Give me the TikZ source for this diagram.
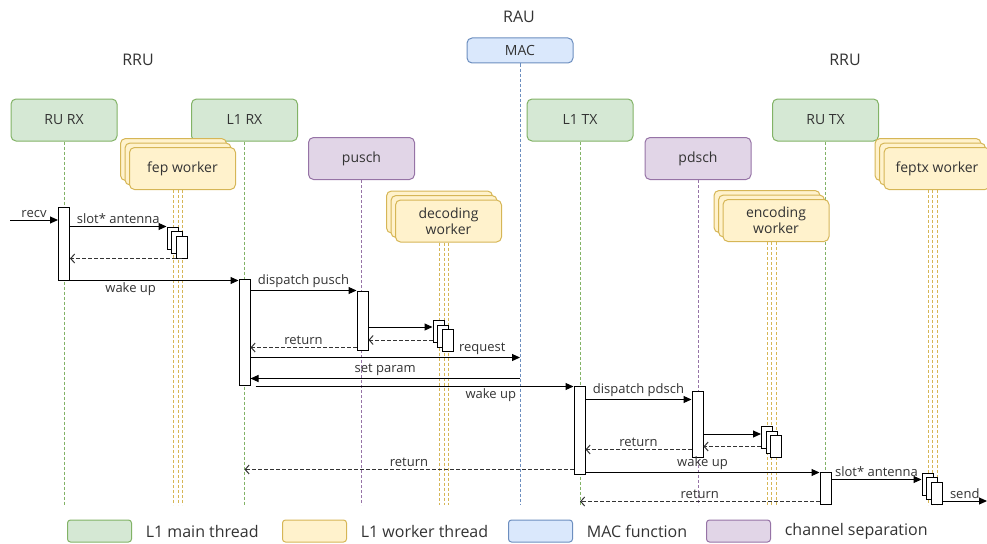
\documentclass[tikz,border=0pt]{standalone}
\usepackage{fontspec}
\setmainfont{Open Sans}
\usepackage{tikz}
\usetikzlibrary{arrows.meta}
\usetikzlibrary{arrows}

\definecolor{mainfill}{HTML}{D5E8D4}
\definecolor{maindraw}{HTML}{82B366}
\definecolor{workfill}{HTML}{FFF2CC}
\definecolor{workdraw}{HTML}{D6B656}
\definecolor{macfill}{HTML}{DAE8FC}
\definecolor{macdraw}{HTML}{6C8EBF}
\definecolor{chanfill}{HTML}{E1D5E7}
\definecolor{chandraw}{HTML}{9673A6}
\definecolor{txt}{HTML}{333333}

\begin{document}
\begin{tikzpicture}[x=1pt,y=-1pt,line width=1pt]
  \tikzset{unit/.style = {shape=rectangle,rounded corners=5pt,minimum width=106pt,minimum height=42pt,inner sep=1pt,align=center,text=txt,font=\fontsize{14}{16}\selectfont}}
  \tikzset{mainth/.style = {unit,draw=maindraw,fill=mainfill}}
  \tikzset{workth/.style = {unit,draw=workdraw,fill=workfill}}
  \tikzset{macf/.style = {unit,draw=macdraw,fill=macfill}}
  \tikzset{chan/.style = {unit,draw=chandraw,fill=chanfill}}
  \tikzset{life/.style = {dash pattern=on 3pt off 2pt}}
  \tikzset{bar/.style = {shape=rectangle,draw=black,fill=white,minimum width=11pt,inner sep=0pt}}
  \tikzset{msg/.style = {-{Triangle[length=8pt,width=7pt]}}}
  \tikzset{ret/.style = {-{Straight Barb[length=4pt,width=9pt]},dash pattern=on 4pt off 2pt,draw=txt}}
  \tikzset{lbl/.style = {text=txt,inner sep=2pt,font=\fontsize{13}{15}\selectfont}}
  \tikzset{head/.style = {text=txt,font=\fontsize{16}{18}\selectfont}}

  \useasboundingbox (0,0) rectangle (987,543);

  \node[head] (rau) at (519,17) {RAU};
  \node[head] (rrul) at (138,60) {RRU};
  \node[head] (rrur) at (845,60) {RRU};

  \node[mainth] (rurx) at (64,120) {RU RX};
  \node[mainth] (l1rx) at (244.5,120) {L1 RX};
  \node[mainth] (l1tx) at (580,120) {L1 TX};
  \node[mainth] (rutx) at (825.5,120) {RU TX};
  \node[chan] (pusch) at (361.5,158.5) {pusch};
  \node[chan] (pdsch) at (698,158.5) {pdsch};
  \node[macf,minimum height=25pt] (mac) at (520,50.5) {MAC};

  \coordinate (base) at (0,505);
  \foreach \n/\c in {rurx/maindraw, l1rx/maindraw, l1tx/maindraw, rutx/maindraw, pusch/chandraw, pdsch/chandraw, mac/macdraw}
    \draw[life,\c] (\n.south) -- (\n.south |- base);

  \foreach \w/\x/\y/\t in {fep/182.5/168.5/fep worker, dec/448.5/221/{decoding\\worker}, enc/776/220.5/{encoding\\worker}, ftx/937/168.5/feptx worker}{
    \foreach \i in {2,1}
      \node[workth] (\w\i) at (\x-4.5*\i,\y-4.5*\i) {};
    \node[workth] (\w0) at (\x,\y) {\t};
    \foreach \i in {0,1,2}
      \draw[life,workdraw] (\w\i.south |- \w0.south) -- (\w\i.south |- base);
  }

  \node[bar,minimum height=73pt] (rurxbar) at (64,243.5) {};
  \node[bar,minimum height=106pt] (l1rxbar) at (244.5,332) {};
  \node[bar,minimum height=59pt] (puschbar) at (362.5,320.5) {};
  \node[bar,minimum height=88pt] (l1txbar) at (579.5,430) {};
  \node[bar,minimum height=66pt] (pdschbar) at (697.5,424) {};
  \node[bar,minimum height=32pt] (rutxbar) at (825.5,488) {};
  \foreach \s/\x/\y in {fepb/172.5/238, decb/438.5/331.5, encb/767/437.5, ftxb/927.5/484}
    \foreach \i in {0,1,2}
      \node[bar,minimum height=22pt] (\s\i) at (\x+4.5*\i,\y+4.5*\i) {};

  \coordinate (recvin) at (10,220);
  \draw[msg] (recvin) -- (rurxbar.west |- recvin) node[lbl,midway,above] {recv};
  \draw[msg] (rurxbar.east |- fepb0.north) -- (fepb0.north west) node[lbl,midway,above] {slot* antenna};
  \draw[ret] (fepb2.south) -- (rurxbar.east |- fepb2.south);
  \draw[msg] (rurxbar.south east) -- (l1rxbar.west |- rurxbar.south east) node[lbl,pos=0.36,below] {wake up};

  \draw[msg] (l1rxbar.east |- puschbar.north) -- (puschbar.north west) node[lbl,midway,above] {dispatch pusch};
  \coordinate (decin) at ([yshift=-7pt]decb0.north west);
  \draw[msg] (puschbar.east |- decin) -- (decin);
  \coordinate (decout) at ([yshift=3pt]decb0.south west);
  \draw[ret] (decout) -- (puschbar.east |- decout);
  \coordinate (puschout) at ([yshift=3pt]puschbar.south west);
  \draw[ret] (puschout) -- (l1rxbar.east |- puschout) node[lbl,midway,above] {return};
  \coordinate (req) at ([yshift=28pt]l1rxbar.south east);
  \draw[msg] (req) -- (mac |- req) node[lbl,pos=0.86,above] {request};
  \coordinate (param) at ([yshift=7pt]l1rxbar.south east);
  \draw[msg] (mac |- param) -- (param) node[lbl,midway,above] {set param};
  \coordinate (wakel1) at ([xshift=5pt,yshift=-1pt]l1rxbar.south east);
  \draw[msg] (wakel1) -- (l1txbar.west |- wakel1) node[lbl,pos=0.74,below] {wake up};

  \coordinate (pdschin) at ([yshift=-9pt]pdschbar.north west);
  \draw[msg] (l1txbar.east |- pdschin) -- (pdschin) node[lbl,midway,above] {dispatch pdsch};
  \coordinate (encin) at ([yshift=-8pt]encb0.north west);
  \draw[msg] (pdschbar.east |- encin) -- (encin);
  \coordinate (encout) at ([yshift=2.5pt]encb0.south west);
  \draw[ret] (encout) -- (pdschbar.east |- encout);
  \coordinate (pdschout) at ([yshift=8pt]pdschbar.south west);
  \draw[ret] (pdschout) -- (l1txbar.east |- pdschout) node[lbl,midway,above] {return};
  \coordinate (l1txout) at ([yshift=5pt]l1txbar.south west);
  \draw[ret] (l1txout) -- (l1rx |- l1txout) node[lbl,midway,above] {return};
  \coordinate (waketx) at ([yshift=2pt]l1txbar.south east);
  \draw[msg] (waketx) -- (rutxbar.west |- waketx) node[lbl,midway,above] {wake up};

  \coordinate (ftxin) at ([yshift=-7pt]ftxb0.north west);
  \draw[msg] (rutxbar.east |- ftxin) -- (ftxin) node[lbl,midway,above] {slot* antenna};
  \coordinate (sendout) at (987,501);
  \draw[msg] (ftxb2.east |- sendout) -- (sendout) node[lbl,midway,above] {send};
  \coordinate (rutxout) at ([yshift=3pt]rutxbar.south west);
  \draw[ret] (rutxout) -- (l1tx |- rutxout) node[lbl,midway,above] {return};

  \foreach \x/\s/\t in {67/mainth/L1 main thread, 282/workth/L1 worker thread, 508/macf/MAC function, 706/chan/channel separation}{
    \node[\s,minimum width=64pt,minimum height=22pt,rounded corners=3pt,anchor=west] (key\x) at (\x,531) {};
    \node[head,anchor=west,font=\fontsize{16}{18}\selectfont] (keylbl\x) at ([xshift=10pt]key\x.east) {\t};
  }
\end{tikzpicture}
\end{document}
